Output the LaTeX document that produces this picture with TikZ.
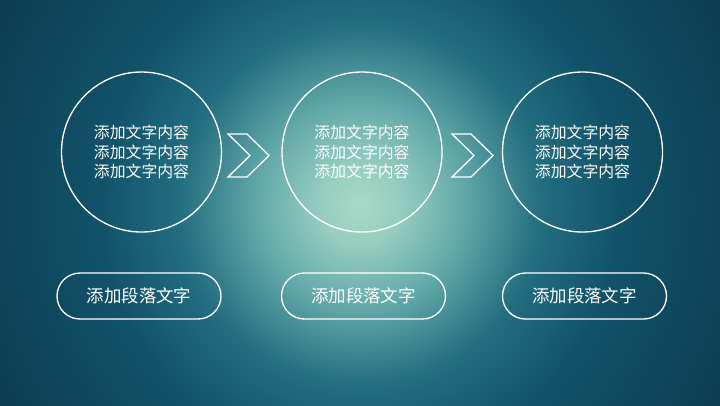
\documentclass[tikz,border=0pt]{standalone}
\usepackage{fontspec}
\newfontfamily\cjk{Noto Sans CJK SC}

\definecolor{glowA}{RGB}{168,218,198}
\definecolor{glowB}{RGB}{150,205,190}
\definecolor{glowC}{RGB}{100,170,170}
\definecolor{glowD}{RGB}{35,110,128}
\definecolor{glowE}{RGB}{18,82,105}
\definecolor{glowF}{RGB}{12,60,80}
\pgfdeclareradialshading{bgglow}{\pgfpoint{0bp}{0bp}}{color(0bp)=(glowA); color(2.4bp)=(glowB); color(6bp)=(glowC); color(10.7bp)=(glowD); color(15.5bp)=(glowE); color(25bp)=(glowF); color(50bp)=(glowF)}

\tikzset{
  ring/.style={draw=white, line width=1pt, circle, minimum size=120pt, inner sep=0pt, text=white, align=center, font=\cjk\fontsize{11.9}{14.6}\selectfont},
  pill/.style={draw=white, line width=1pt, rounded corners=17.25pt, minimum width=123pt, minimum height=34.5pt, inner sep=0pt, text=white, font=\cjk\fontsize{13.1}{15}\selectfont},
  chev/.style={draw=white, line width=1pt, line join=miter}
}

\begin{document}
\begin{tikzpicture}[x=0.75pt,y=0.75pt,yscale=-1,xscale=1]
\useasboundingbox (0,0) rectangle (720,405);

%Background glow
\begin{scope}
\clip (0,0) rectangle (720,405);
\shade[shading=bgglow] (360,205) circle (420);
\end{scope}

%Shape: Circle
\node[ring] (step1) at (141.5,152) {添加文字内容\\添加文字内容\\添加文字内容};
%Shape: Circle
\node[ring] (step2) at (362,152) {添加文字内容\\添加文字内容\\添加文字内容};
%Shape: Circle
\node[ring] (step3) at (582.5,152) {添加文字内容\\添加文字内容\\添加文字内容};

%Shape: Chevron
\draw[chev] (228,134) -- (247,134) -- (269,155.5) -- (247,177) -- (228,177) -- (250,155.5) -- cycle;
%Shape: Chevron
\draw[chev] (452,134) -- (471,134) -- (493,155.5) -- (471,177) -- (452,177) -- (474,155.5) -- cycle;

%Shape: Rounded Rect
\node[pill] (label1) at (139,296) {添加段落文字};
%Shape: Rounded Rect
\node[pill] (label2) at (363.5,296) {添加段落文字};
%Shape: Rounded Rect
\node[pill] (label3) at (584.5,296) {添加段落文字};

\end{tikzpicture}
\end{document}
